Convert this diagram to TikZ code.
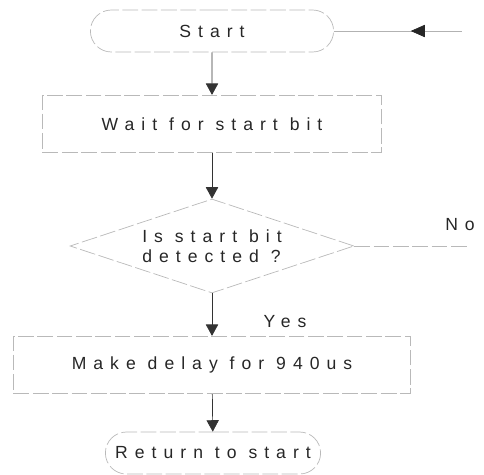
\documentclass[tikz,border=0pt]{standalone}
\usepackage{fontspec}
\setmainfont{Liberation Sans}[LetterSpace=40]
\usetikzlibrary{shapes,arrows.meta,decorations.markings}

\begin{document}
\begin{tikzpicture}[x=0.02cm,y=-0.02cm,
    font=\fontsize{10}{11.5}\selectfont, text=black!85,
    outline/.style={draw=gray!55, thin, dash pattern=on 9pt off 2pt},
    term/.style={outline, rounded rectangle, minimum height=0.84cm},
    box/.style={outline, rectangle, minimum height=1.15cm},
    decide/.style={outline, diamond, aspect=3, inner sep=0pt, minimum width=5.68cm, minimum height=1.88cm, align=left},
    flow/.style={draw=black!80, thin, -{Triangle[width=7pt,length=6.5pt]}},
    back/.style={draw=gray!60, thin, decoration={markings, mark=at position 0.6 with {\arrowreversed[black!85]{Triangle[width=7pt,length=8pt]}}}, postaction={decorate}}]
\useasboundingbox (0,0) rectangle (484,474);

% blocks
\node[term, minimum width=5.1cm] (start) at (212,31) {Start};
\node[box, minimum width=6.78cm] (wait) at (212,124) {Wait for start bit};
\node[decide] (check) at (212,246) {Is start bit\\detected ?};
\node[box, minimum width=7.94cm] (delay) at (212,365) {Make delay for 940us};
\node[term, minimum width=4.54cm] (ret) at (213,453) {Return to start};

% labels
\node (no) at (460,225) {No};
\node (yes) at (285,322) {Yes};

% free ends on the right
\coordinate (loop) at (462,31);
\coordinate (noend) at (470,246);

% connectors
\draw[flow] (start) -- (wait);
\draw[flow] (wait) -- (check);
\draw[flow] (check) -- (delay);
\draw[flow] (delay) -- (ret);
\draw[back] (start.east) -- (loop);
\draw[draw=gray!55, thin, dash pattern=on 9pt off 2pt] (check.east) -- (noend);
\end{tikzpicture}
\end{document}
